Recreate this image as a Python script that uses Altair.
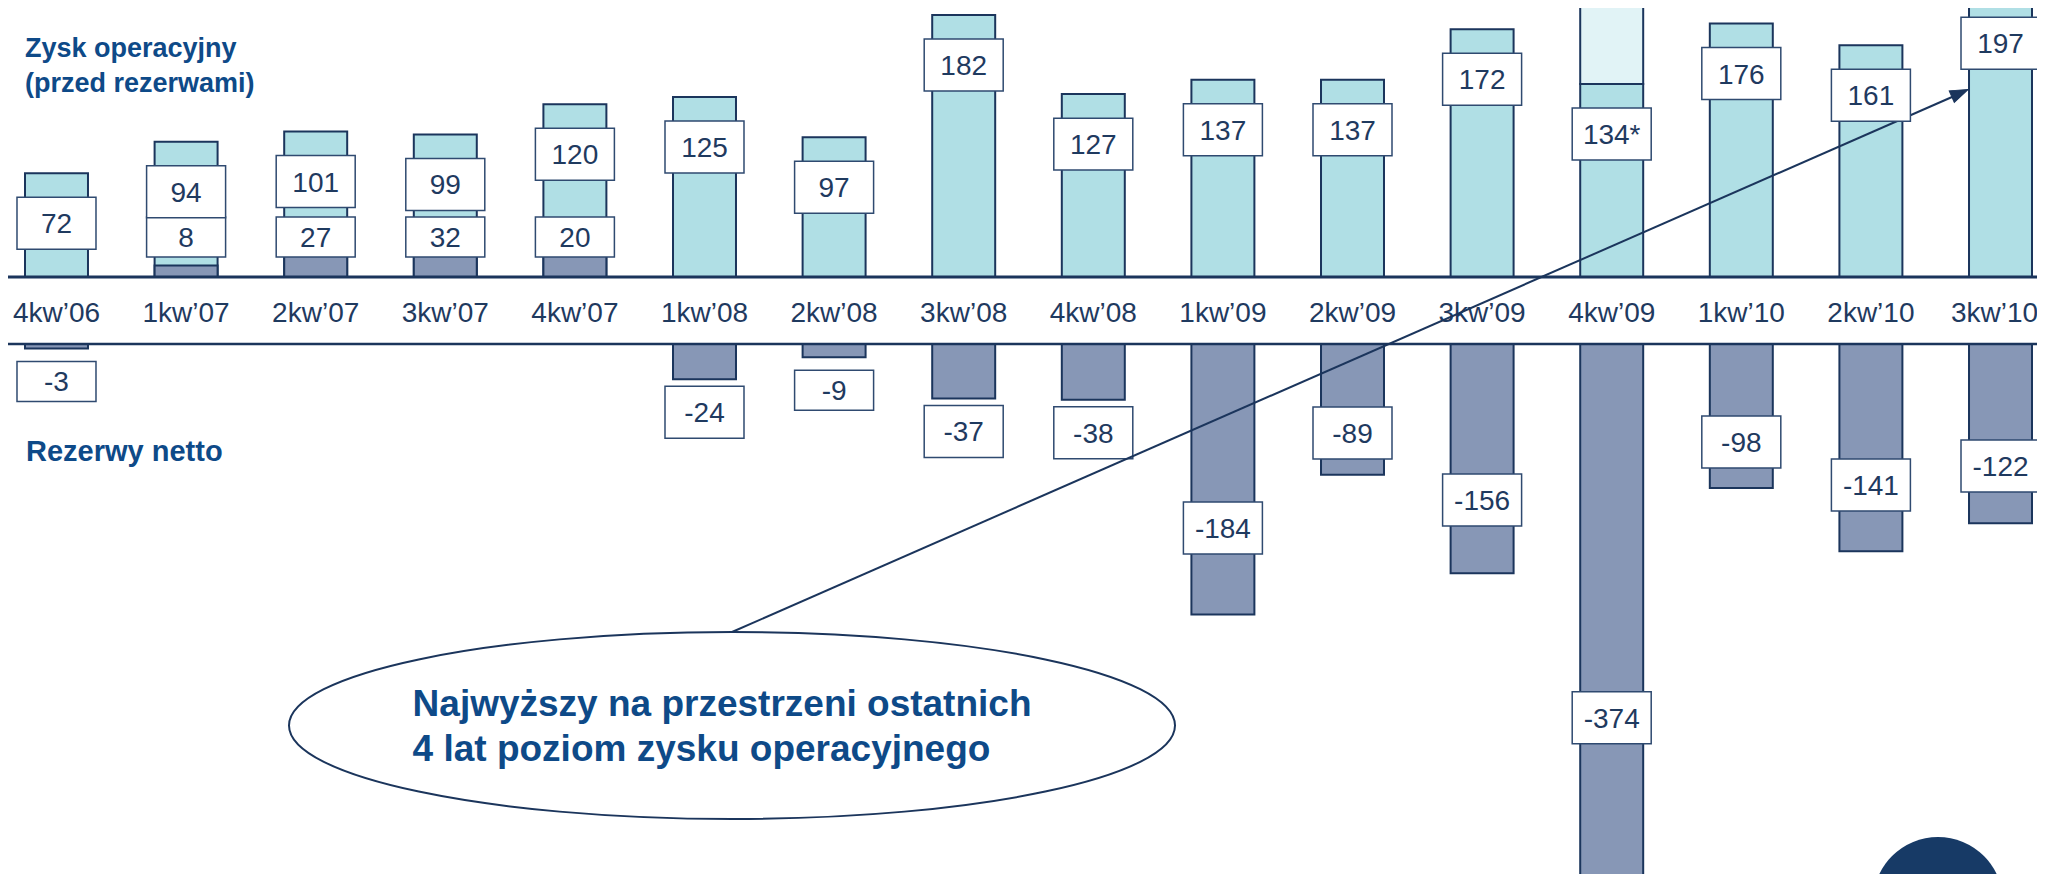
import altair as alt
import pandas as pd

# ---------------- data ----------------
categories = ["4kw’06", "1kw’07", "2kw’07", "3kw’07", "4kw’07", "1kw’08", "2kw’08", "3kw’08",
              "4kw’08", "1kw’09", "2kw’09", "3kw’09", "4kw’09", "1kw’10", "2kw’10", "3kw’10"]
operating_profit = [72, 94, 101, 99, 120, 125, 97, 182, 127, 137, 137, 172, 134, 176, 161, 197]
profit_labels = ["72", "94", "101", "99", "120", "125", "97", "182", "127", "137", "137", "172",
                 "134*", "176", "161", "197"]
net_provisions = [-3, 8, 27, 32, 20, -24, -9, -37, -38, -184, -89, -156, -374, -98, -141, -122]
oneoff_category = ["4kw’09"]
oneoff_value = [60]  # light segment running off the top of the slide (estimated)

title_top = ["Zysk operacyjny", "(przed rezerwami)"]
title_bottom = "Rezerwy netto"
callout = ["Najwyższy na przestrzeni ostatnich", "4 lat poziom zysku operacyjnego"]

# ---------------- style ----------------
FONT = "Liberation Sans, Arial, sans-serif"
NAVY = "#1b355c"
TEXT = "#1f3a5f"
TITLE = "#0e4a88"
TEAL = "#b0dfe5"
SLATE = "#8797b6"
PALE = "#e1f3f6"
BOX_STROKE = "#2f4a70"
TALL = "M -1 -0.658 L 1 -0.658 L 1 0.658 L -1 0.658 Z"
SHORT = "M -1 -0.506 L 1 -0.506 L 1 0.506 L -1 0.506 Z"
ELLIPSE = ("M -1 0 C -1 -0.1165 -0.5523 -0.211 0 -0.211 C 0.5523 -0.211 1 -0.1165 1 0 "
           "C 1 0.1165 0.5523 0.211 0 0.211 C -0.5523 0.211 -1 0.1165 -1 0 Z")
ARROW = "M 1 0 L -1 -0.7 L -1 0.7 Z"
BOX_SIZE = 79 * 79
W, H = 2029, 866

df = pd.DataFrame({"cat": categories, "profit": operating_profit,
                   "plabel": profit_labels, "prov": net_provisions})
df["prov_label"] = df["prov"].astype(str)
df_one = pd.DataFrame({"cat": oneoff_category, "extra": oneoff_value})
df_one["base"] = [operating_profit[categories.index(c)] for c in oneoff_category]
df_one["top"] = df_one["base"] + df_one["extra"]
zero = pd.DataFrame({"z": [0]})
one = pd.DataFrame({"a": [0]})

XS = alt.Scale(domain=categories, range=[17, 2024], paddingInner=0.514, paddingOuter=0)
YT = alt.Scale(domain=[0, 100], range=[269, 125], nice=False, zero=False)
YB = alt.Scale(domain=[-100, 0], range=[483, 336], nice=False, zero=False)

x = alt.X("cat:N", scale=XS, axis=None)
base = alt.Chart(df)

top_bars = base.mark_bar(fill=TEAL, stroke=NAVY, strokeWidth=2, clip=True).encode(
    x=x, y=alt.Y("profit:Q", scale=YT, axis=None))
extra_bars = alt.Chart(df_one).mark_bar(fill=PALE, stroke=NAVY, strokeWidth=2, clip=True).encode(
    x=x, y=alt.Y("base:Q", scale=YT, axis=None), y2="top:Q")
pos_prov = base.transform_filter("datum.prov > 0").mark_bar(
    fill=SLATE, stroke=NAVY, strokeWidth=2, clip=True).encode(
    x=x, y=alt.Y("prov:Q", scale=YT, axis=None))
neg_prov = base.transform_filter("datum.prov < 0").mark_bar(
    fill=SLATE, stroke=NAVY, strokeWidth=2, clip=True).encode(
    x=x, y=alt.Y("prov:Q", scale=YB, axis=None))

base_top = alt.Chart(zero).mark_rule(stroke=NAVY, strokeWidth=3).encode(
    y=alt.Y("z:Q", scale=YT, axis=None), x=alt.value(0), x2=alt.value(W))
base_bot = alt.Chart(zero).mark_rule(stroke=NAVY, strokeWidth=2.5).encode(
    y=alt.Y("z:Q", scale=YB, axis=None), x=alt.value(0), x2=alt.value(W))

last_cat = categories[-1]
cat_labels = base.transform_filter(alt.datum.cat != last_cat).mark_text(
    font=FONT, fontSize=28, color=TEXT, align="center", baseline="alphabetic").encode(
    x=x, y=alt.value(313.7), text="cat:N")
cat_label_last = base.transform_filter(alt.datum.cat == last_cat).mark_text(
    font=FONT, fontSize=28, color=TEXT, align="center", baseline="alphabetic", dx=-6).encode(
    x=x, y=alt.value(313.7), text="cat:N")


def box(chart, shape, yenc, off):
    return chart.mark_point(shape=shape, size=BOX_SIZE, filled=True, fill="white",
                            stroke=BOX_STROKE, strokeWidth=1.5, opacity=1, yOffset=off).encode(
        x=x, y=yenc)


def lab(chart, yenc, off, field):
    return chart.mark_text(font=FONT, fontSize=28, color=TEXT, align="center",
                           baseline="middle", yOffset=off + 2).encode(x=x, y=yenc, text=f"{field}:N")


# bottom (negative) boxes
small_short = base.transform_filter("datum.prov < 0 && datum.prov > -10")
small_tall = base.transform_filter("datum.prov <= -10 && datum.prov > -60")
big = base.transform_filter("datum.prov <= -60").transform_calculate(ly="datum.prov * 0.68")
yb_prov = alt.Y("prov:Q", scale=YB, axis=None)
yb_ly = alt.Y("ly:Q", scale=YB, axis=None)
bottom_boxes = [
    box(small_short, SHORT, yb_prov, 33), lab(small_short, yb_prov, 33, "prov_label"),
    box(small_tall, TALL, yb_prov, 33), lab(small_tall, yb_prov, 33, "prov_label"),
    box(big, TALL, yb_ly, 0), lab(big, yb_ly, 0, "prov_label"),
]

# top boxes
pos = base.transform_filter("datum.prov > 0").transform_calculate(zz="0")
yt_zero = alt.Y("zz:Q", scale=YT, axis=None)
yt_profit = alt.Y("profit:Q", scale=YT, axis=None)
top_boxes = [
    box(pos, SHORT, yt_zero, -40), lab(pos, yt_zero, -40, "prov_label"),
    box(base, TALL, yt_profit, 50), lab(base, yt_profit, 50, "plabel"),
]

# annotations
arrow_line = alt.Chart(one).mark_rule(stroke=NAVY, strokeWidth=2).encode(
    x=alt.value(724), y=alt.value(624), x2=alt.value(1952), y2=alt.value(85.5))
arrow_head = alt.Chart(one).mark_point(shape=ARROW, size=324, angle=336.3, filled=True,
                                       fill=NAVY, stroke=NAVY, strokeWidth=1, opacity=1).encode(
    x=alt.value(1952), y=alt.value(85))
ellipse = alt.Chart(one).mark_point(shape=ELLIPSE, size=886 * 886, filled=False, fill="white",
                                    fillOpacity=0, stroke=NAVY, strokeWidth=2, opacity=1).encode(
    x=alt.value(724), y=alt.value(717.5))
callout_text = alt.Chart(one).mark_text(font=FONT, fontSize=37, fontWeight="bold", color=TITLE,
                                        align="left", baseline="alphabetic", lineHeight=45,
                                        text=callout).encode(
    x=alt.value(404.6), y=alt.value(708))
t_top = alt.Chart(one).mark_text(font=FONT, fontSize=27, fontWeight="bold", color=TITLE,
                                 align="left", baseline="alphabetic", lineHeight=35,
                                 text=title_top).encode(
    x=alt.value(17), y=alt.value(48.7))
t_bot = alt.Chart(one).mark_text(font=FONT, fontSize=29, fontWeight="bold", color=TITLE,
                                 align="left", baseline="alphabetic", text=title_bottom).encode(
    x=alt.value(18), y=alt.value(452.7))
logo = alt.Chart(one).mark_point(shape="circle", size=130 * 130, filled=True, fill="#173a66",
                                 opacity=1).encode(x=alt.value(1930), y=alt.value(894))

chart = alt.layer(
    top_bars, extra_bars, pos_prov, neg_prov, base_top, base_bot, cat_labels, cat_label_last,
    *bottom_boxes, arrow_line, arrow_head, *top_boxes,
    ellipse, callout_text, t_top, t_bot, logo,
).resolve_scale(y="independent").properties(
    width=W, height=H, autosize=alt.AutoSizeParams(type="none"), padding=0,
).configure_view(strokeWidth=0)

chart.save("out.html", embed_options={"renderer": "svg", "actions": False})
